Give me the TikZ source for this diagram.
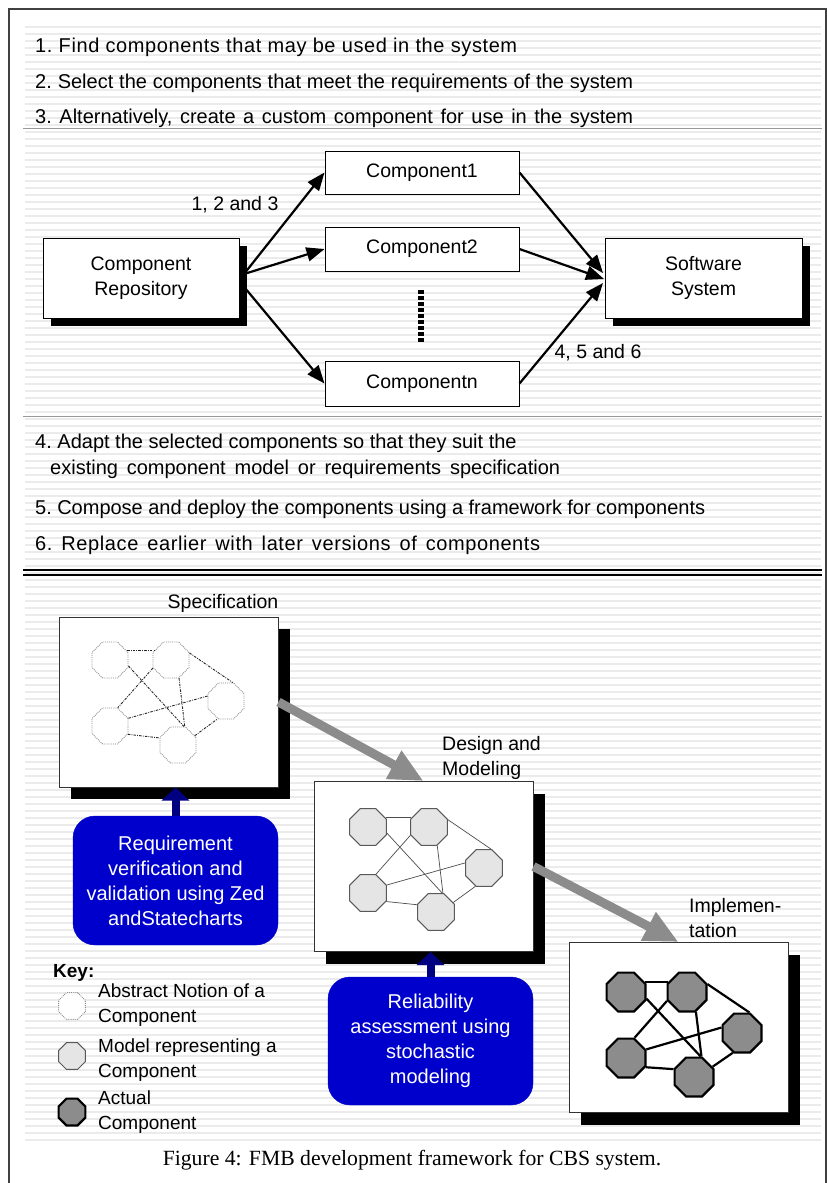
\documentclass[tikz,border=0pt]{standalone}
\usepackage{fontspec}
\setmainfont{Liberation Sans}
\newfontfamily\captionserif{Liberation Serif}
\newfontfamily\widesans[LetterSpace=3]{Liberation Sans}
\usetikzlibrary{arrows.meta,shapes.geometric,shadows}

\definecolor{boxblue}{RGB}{0,0,204}
\definecolor{navyblue}{RGB}{0,0,128}
\definecolor{fatgray}{RGB}{140,140,140}

\tikzset{
  stripe/.style={line width=2.6pt, draw=black!8},
  rulegray/.style={line width=1pt, draw=black!40},
  listtext/.style={font=\fontsize{20}{25}\selectfont\frenchspacing, inner sep=0pt, anchor=base west},
  plainbox/.style={draw=black, line width=1pt, fill=white,
    font=\fontsize{19.5}{25}\selectfont, align=center, inner sep=0pt},
  shadowbox/.style={plainbox, drop shadow={shadow xshift=8pt, shadow yshift=-8pt, opacity=1, fill=black}},
  stagebox/.style={draw=black!80, line width=1pt, fill=white, inner sep=0pt,
    minimum width=219, minimum height=170,
    drop shadow={shadow xshift=12pt, shadow yshift=-12pt, opacity=1, fill=black}},
  stagelabel/.style={font=\fontsize{19.5}{24.5}\selectfont, align=left, inner sep=0pt},
  flowarrow/.style={line width=2.2pt, -{Triangle[length=18pt, width=14pt]}},
  stagearrow/.style={line width=9pt, draw=fatgray, -{Triangle[length=34pt, width=30pt]}},
  toolbox/.style={rounded corners=22pt, fill=boxblue, draw=boxblue, text=white,
    font=\fontsize{20}{25}\selectfont, align=center, inner sep=0pt,
    minimum width=205, minimum height=128},
  toolarrow/.style={line width=8pt, draw=navyblue, -{Triangle[length=13pt, width=27pt]}},
  % three kinds of component octagons
  absoct/.style={regular polygon, regular polygon sides=8, inner sep=0pt,
    minimum size=39, draw=black!45, densely dotted, line width=0.9pt, fill=white},
  absedge/.style={draw=black!85, line width=0.9pt, dash pattern=on 2.5pt off 1.2pt on 0.8pt off 1.2pt},
  modoct/.style={regular polygon, regular polygon sides=8, inner sep=0pt,
    minimum size=40, draw=black!65, line width=1pt, fill=black!10},
  modedge/.style={draw=black!70, line width=0.7pt},
  actoct/.style={regular polygon, regular polygon sides=8, inner sep=0pt,
    minimum size=42, draw=black, line width=2.2pt, fill=black!45},
  actedge/.style={draw=black, line width=2.2pt},
  legendtext/.style={font=\fontsize{19}{25}\selectfont, align=left, inner sep=0pt, anchor=west},
}

% five connected components; #1 name prefix, (#2,#3) first octagon,
% #4 octagon style, #5 edge style, #6 octagon size
\newcommand{\octnet}[6]{%
  \begin{scope}[shift={(#2,#3)}]
    \node[#4, minimum size=#6] (#1a) at (0,0) {};
    \node[#4, minimum size=#6] (#1b) at (61,0) {};
    \node[#4, minimum size=#6] (#1c) at (116,41) {};
    \node[#4, minimum size=#6] (#1d) at (0,66) {};
    \node[#4, minimum size=#6] (#1e) at (68,85) {};
  \end{scope}
  \draw[#5] (#1a.28) -- (#1b.152);
  \draw[#5] (#1a.-18) -- (#1e.72);
  \draw[#5] (#1b.-156) -- (#1d.67);
  \draw[#5] (#1b.-66) -- (#1e.70);
  \draw[#5] (#1b.21) -- (#1c.70);
  \draw[#5] (#1d.23) -- (#1c.165);
  \draw[#5] (#1d.-25) -- (#1e.159);
  \draw[#5] (#1e.29) -- (#1c.-115);
}

% a line of text spread to a given width
\newcommand{\spreadline}[2]{\makebox[#1pt][s]{#2}}

\begin{document}
\begin{tikzpicture}[x=1pt, y=-1pt]
\useasboundingbox (0,0) rectangle (827,1183);

% striped paper
\foreach \yy in {27,34,...,1140} \draw[stripe] (25,\yy) -- (821,\yy);

% frame
\draw[black!75, line width=1.2pt] (9,1183) -- (9,9) -- (826,9) -- (826,1183);

% section rules
\draw[rulegray] (23,128) -- (822,128);
\draw[rulegray] (23,416) -- (822,416);
\draw[black, line width=1.3pt] (23,570) -- (822,570);
\draw[black, line width=1.3pt] (23,575) -- (822,575);

% steps 1-3
\node[listtext] (s1) at (35,52) {\widesans\spreadline{482}{1. Find components that may be used in the system}};
\node[listtext] (s2) at (35,88) {\spreadline{598}{2. Select the components that meet the requirements of the system}};
\node[listtext] (s3) at (35,123) {\spreadline{598}{3. Alternatively, create a custom component for use in the system}};

% repository, components and system
\node[shadowbox, minimum width=196, minimum height=80] (repo) at (141,278) {Component\\Repository};
\node[plainbox, minimum width=194, minimum height=43] (c1) at (422,172.5) {Component1};
\node[plainbox, minimum width=194, minimum height=44] (c2) at (422,249) {Component2};
\node[plainbox, minimum width=194, minimum height=45] (cn) at (422,383.5) {Componentn};
\node[shadowbox, minimum width=197, minimum height=80] (sys) at (703.5,278) {Software\\System};

\draw[line width=6.5pt, dash pattern=on 4pt off 2pt] (421,290) -- (421,342);

\coordinate (r1) at (244,274);
\coordinate (r2) at (245,288);
\coordinate (t1) at (603,273);
\coordinate (t2) at (604,279);
\coordinate (t3) at (603,283);
\draw[flowarrow] (r1) -- (c1.west);
\draw[flowarrow] (r1) -- (c2.west);
\draw[flowarrow] (r2) -- (cn.west);
\draw[flowarrow] (c1.east) -- (t1);
\draw[flowarrow] (c2.east) -- (t2);
\draw[flowarrow] (cn.east) -- (t3);

\node[font=\fontsize{19.5}{24}\selectfont, inner sep=0pt] (l123) at (235,205) {1, 2 and 3};
\node[font=\fontsize{19.5}{24}\selectfont, inner sep=0pt] (l456) at (598,353) {4, 5 and 6};

% steps 4-6
\node[listtext] (s4) at (35,448) {4. Adapt the selected components so that they suit the};
\node[listtext] (s4b) at (50,474) {\spreadline{510}{existing component model or requirements specification}};
\node[listtext] (s5) at (35,514) {\spreadline{670}{5. Compose and deploy the components using a framework for components}};
\node[listtext] (s6) at (35,550) {\widesans\spreadline{505}{6. Replace earlier with later versions of components}};

% development stages
\node[stagebox] (spec) at (168.5,702) {};
\node[stagebox] (design) at (423.5,866.5) {};
\node[stagebox] (impl) at (678.5,1027.5) {};

\node[stagelabel] (specl) at (223,603) {Specification};
\node[stagelabel, anchor=west] (designl) at (442,758) {Design and\\Modeling};
\node[stagelabel, anchor=west] (impll) at (689,918) {Implemen-\\tation};

\octnet{sp}{110}{660}{absoct}{absedge}{39}
\octnet{dm}{368}{827}{modoct}{modedge}{40}
\octnet{im}{626}{992}{actoct}{actedge}{42}

\draw[stagearrow] (spec.east) -- (design.north);
\draw[stagearrow] (design.east) -- (impl.north);

% supporting techniques
\node[toolbox, minimum height=129] (req) at (175.5,880.5) {Requirement\\verification and\\validation using Zed\\andStatecharts};
\node[toolbox] (rel) at (430.5,1041) {Reliability\\assessment using\\stochastic\\modeling};
\draw[toolarrow] (req.north) -- (req.north |- spec.south);
\draw[toolarrow] (rel.north) -- (rel.north |- design.south);

% key
\node[font=\bfseries\fontsize{19}{24}\selectfont, inner sep=0pt, anchor=west] (key) at (53,973) {Key:};
\node[absoct, minimum size=29] (k1) at (72,1006) {};
\node[modoct, minimum size=29] (k2) at (72,1056) {};
\node[actoct, minimum size=29] (k3) at (72,1112) {};
\node[legendtext] (k1t) at (98,1005) {Abstract Notion of a\\Component};
\node[legendtext] (k2t) at (98,1060) {Model representing a\\Component};
\node[legendtext] (k3t) at (98,1112) {Actual\\Component};

% caption
\node[font=\captionserif\fontsize{21.7}{26}\selectfont, inner sep=0pt] (cap) at (412,1160) {Figure 4: FMB development framework for CBS system.};
\end{tikzpicture}
\end{document}
